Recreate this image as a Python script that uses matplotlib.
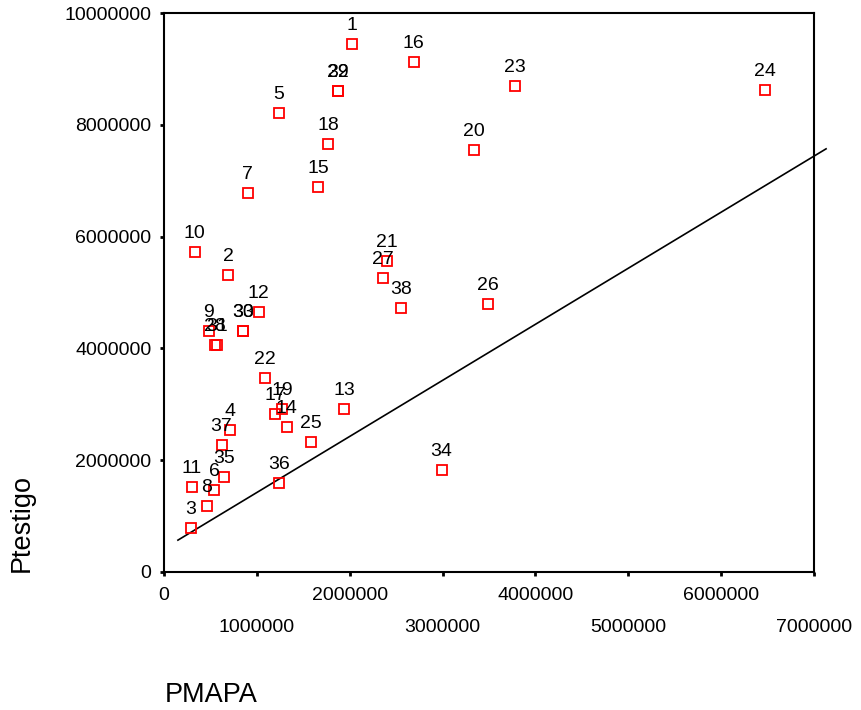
import numpy as np
import matplotlib
matplotlib.use('Agg')
import matplotlib.pyplot as plt

plt.rcParams['font.family'] = ['Liberation Sans', 'DejaVu Sans']

# Casos (numero de caso) y valores
casos = ['1', '2', '3', '4', '5', '6', '7', '8', '9', '10',
         '11', '12', '13', '14', '15', '16', '17', '18', '19', '20',
         '21', '22', '23', '24', '25', '26', '27', '28', '29', '30',
         '31', '32', '33', '34', '35', '36', '37', '38']

pmapa = np.array([2020000, 690000, 290000, 710000, 1240000, 540000, 900000, 460000, 480000, 330000,
                  300000, 1020000, 1940000, 1320000, 1660000, 2690000, 1200000, 1770000, 1270000, 3340000,
                  2400000, 1090000, 3780000, 6470000, 1580000, 3490000, 2360000, 550000, 1870000, 850000,
                  570000, 1870000, 850000, 2990000, 650000, 1240000, 620000, 2550000])

ptestigo = np.array([9450000, 5310000, 790000, 2540000, 8210000, 1470000, 6780000, 1180000, 4310000, 5720000,
                     1520000, 4650000, 2920000, 2590000, 6890000, 9120000, 2830000, 7660000, 2920000, 7550000,
                     5560000, 3470000, 8700000, 8630000, 2330000, 4790000, 5260000, 4060000, 8600000, 4310000,
                     4060000, 8600000, 4310000, 1820000, 1700000, 1590000, 2270000, 4720000])

# Recta de referencia (extremos)
recta_x = np.array([150000, 7130000])
recta_y = np.array([570000, 7570000])

xticks = np.arange(0, 7000001, 1000000)
yticks = np.arange(0, 10000001, 2000000)

fig = plt.figure(figsize=(8.61, 7.10), dpi=100)
ax = fig.add_axes([164/861, 1-572/710, 650/861, 559/710])

ax.plot(recta_x, recta_y, color='black', lw=1.2, clip_on=False, zorder=2)
ax.plot(pmapa, ptestigo, 's', ms=7, mfc='none', mec='red', mew=1.3, zorder=3)

for c, x, y in zip(casos, pmapa, ptestigo):
    ax.annotate(c, (x, y), xytext=(0, 10), textcoords='offset points',
                ha='center', va='baseline', fontsize=14)

ax.set_xlim(0, 7000000)
ax.set_ylim(0, 10000000)
ax.set_xticks(xticks)
ax.set_yticks(yticks)
ax.set_xticklabels([str(v) for v in xticks], fontsize=14)
ax.set_yticklabels([str(v) for v in yticks], fontsize=14)
ax.tick_params(direction='out', length=3, width=2, color='black')

for s in ax.spines.values():
    s.set_linewidth(1.5)
    s.set_color('black')

# etiquetas del eje x alternadas en dos filas
for i, t in enumerate(ax.xaxis.get_major_ticks()):
    t.set_pad(8 if i % 2 == 0 else 31)
for t in ax.yaxis.get_major_ticks():
    t.set_pad(6)

fig.text(165/861, 1-695/710, 'PMAPA', ha='left', va='center', fontsize=19.5)
fig.text(22/861, 1-572/710, 'Ptestigo', rotation=90, ha='center', va='bottom', fontsize=19.5)

fig.savefig('out.png', dpi=100)
